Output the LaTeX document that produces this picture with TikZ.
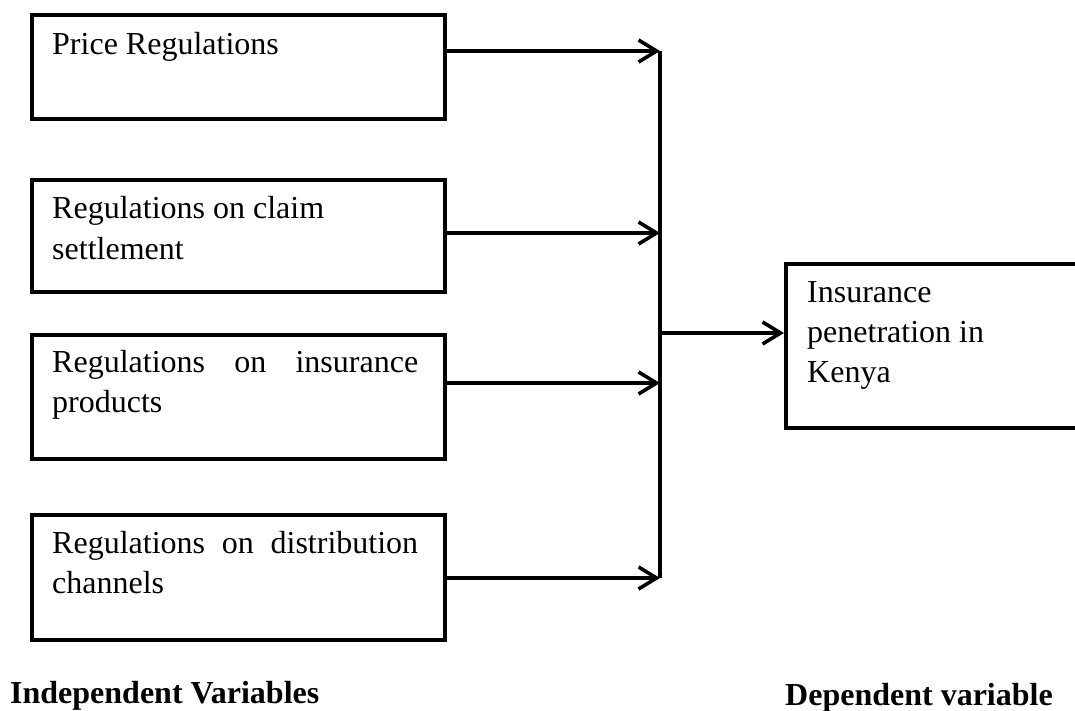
\documentclass[tikz,border=0pt]{standalone}
\usepackage{fontspec}
\setmainfont{Liberation Serif}
\usetikzlibrary{arrows.meta}
\begin{document}
\begin{tikzpicture}[x=1pt,y=-1pt,
  box/.style={draw, line width=3.6pt, anchor=north west, inner sep=0pt},
  lbl/.style={anchor=base west, inner sep=0pt, font=\fontsize{32}{40}\selectfont},
  head/.style={anchor=base west, inner sep=0pt, font=\fontsize{32}{40}\selectfont\bfseries},
  conn/.style={line width=3.3pt},
  arr/.style={conn, -{Straight Barb[length=18pt,width=22pt,line width=3.6pt]}}]
\useasboundingbox (0,0) rectangle (1075,711);
\clip (0,0) rectangle (1075,711);
% boxes
\node[box, minimum width=413pt, minimum height=104pt] (b1) at (30,13) {};
\node[box, minimum width=413pt, minimum height=112pt] (b2) at (30,178) {};
\node[box, minimum width=413pt, minimum height=124pt] (b3) at (30,333) {};
\node[box, minimum width=413pt, minimum height=125pt] (b4) at (30,513) {};
\node[box, minimum width=320pt, minimum height=164pt] (dv) at (784,262) {};
% texts
\node[lbl] (t1) at (52,55) {Price Regulations};
\node[lbl] (t2) at (52,219) {\parbox[t]{366pt}{Regulations on claim\\settlement}};
\node[lbl] (t3) at (52,372) {\parbox[t]{366pt}{\makebox[366pt][s]{Regulations on insurance}\\products}};
\node[lbl] (t4) at (52,553) {\parbox[t]{366pt}{\makebox[366pt][s]{Regulations on distribution}\\channels}};
\node[lbl] (t5) at (807,302) {\parbox[t]{260pt}{Insurance\\penetration in\\Kenya}};
\node[head] (h1) at (10,703) {Independent Variables};
\node[head] (h2) at (785,705) {Dependent variable};
% connectors
\coordinate (v1) at (660,51);
\coordinate (v2) at (660,233);
\coordinate (v3) at (660,383);
\coordinate (v4) at (660,578);
\coordinate (vm) at (660,333);
\draw[conn] (v1) -- (v4);
\draw[arr] (b1.east |- v1) -- (v1);
\draw[arr] (b2.east |- v2) -- (v2);
\draw[arr] (b3.east |- v3) -- (v3);
\draw[arr] (b4.east |- v4) -- (v4);
\draw[arr] (vm) -- (dv.west |- vm);
\end{tikzpicture}
\end{document}
